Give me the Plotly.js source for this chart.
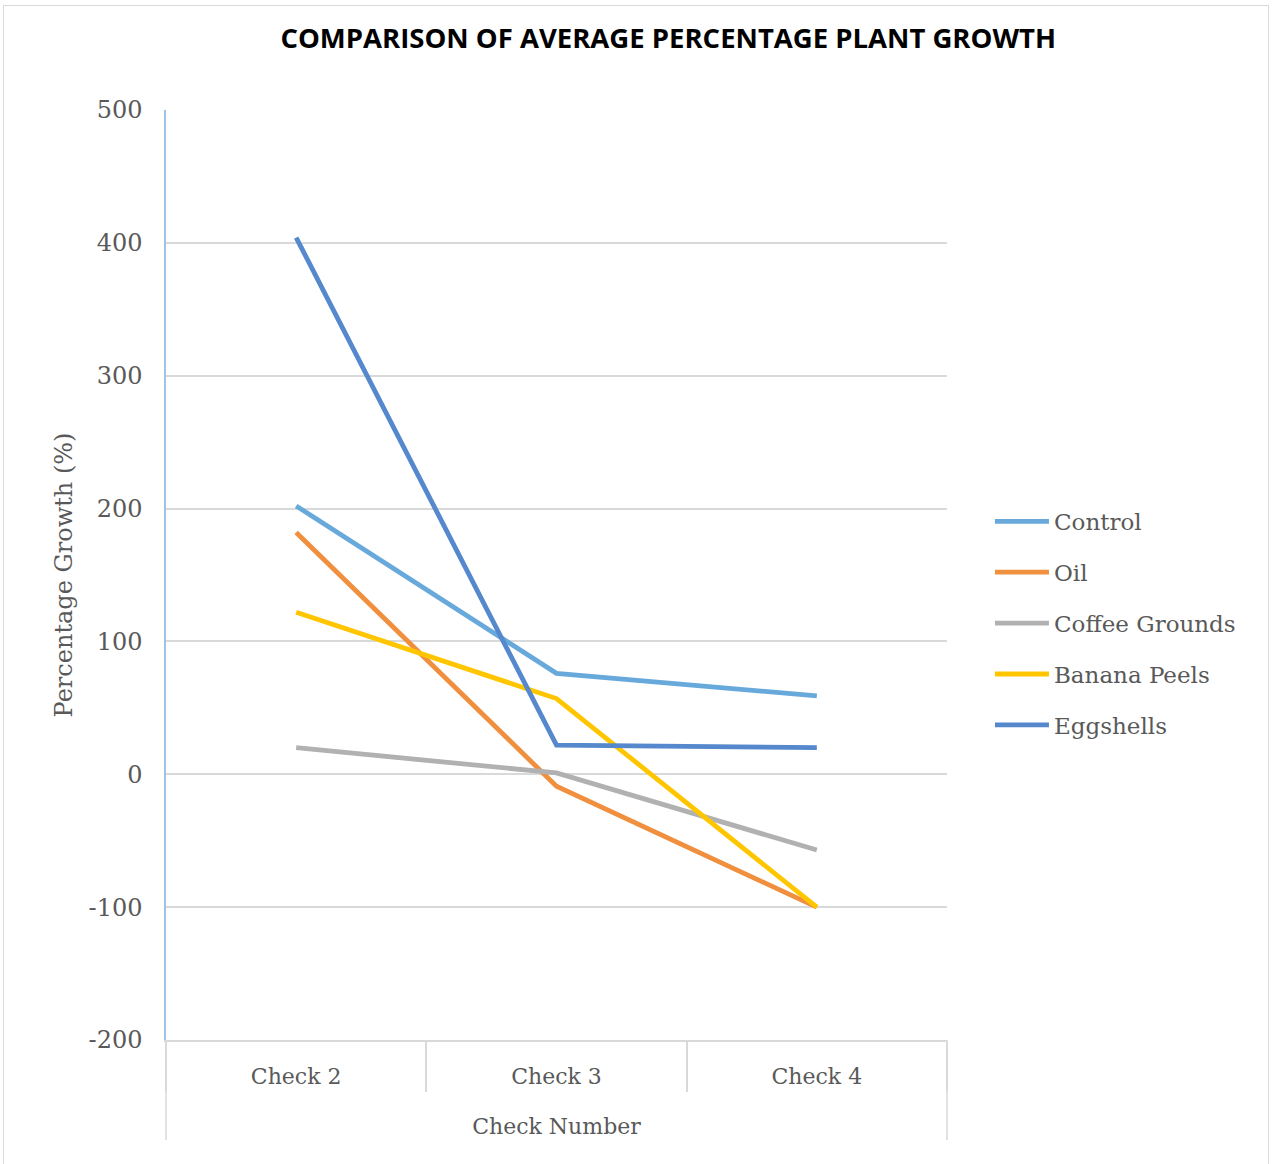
<!DOCTYPE html>
<html>
<head>
<meta charset="utf-8">
<script src="https://cdn.plot.ly/plotly-3.0.1.min.js"></script>
<style>
  html, body { margin: 0; padding: 0; background: #ffffff; }
  #wrap { position: relative; width: 1274px; height: 1164px; overflow: hidden; }
  #chart { position: absolute; left: 0; top: 0; width: 1274px; height: 1164px; }
  #frame { position: absolute; left: 3px; top: 5px; width: 1266px; height: 1170px;
           border: 1px solid #d9d9d9; pointer-events: none; box-sizing: border-box; }
</style>
</head>
<body>
<div id="wrap">
  <div id="chart"></div>
  <div id="frame"></div>
</div>
<script>
// Check points and average percentage growth for each treatment
const checks = ["Check 2", "Check 3", "Check 4"];
const control = [202, 76, 59];
const oil = [182, -9, -100];
const coffeeGrounds = [20, 1, -57];
const bananaPeels = [122, 57, -100];
const eggshells = [404, 22, 20];

// Y axis ticks, written with a plain hyphen for negatives
const yTickValues = [-200, -100, 0, 100, 200, 300, 400, 500];
const yTickLabels = ["-200", "-100", "0", "100", "200", "300", "400", "500"];

const seriesNames = ["Control", "Oil", "Coffee Grounds", "Banana Peels", "Eggshells"];
const seriesValues = [control, oil, coffeeGrounds, bananaPeels, eggshells];
const seriesColors = ["#68a9dc", "#f08f3e", "#b1b1b1", "#ffc600", "#5588cc"];

const serif = "DejaVu Serif, Georgia, serif";
const textGrey = "#595959";
const gridGrey = "#d9d9d9";

const traces = seriesNames.map((name, i) => ({
  type: "scatter",
  mode: "lines",
  name: name,
  x: checks,
  y: seriesValues[i],
  legendgroup: "g" + i,
  line: { color: seriesColors[i], width: 4.8 },
  hoverinfo: "x+y+name"
}));

const layout = {
  width: 1274,
  height: 1164,
  paper_bgcolor: "#ffffff",
  plot_bgcolor: "#ffffff",
  margin: { l: 166, r: 327, t: 110, b: 124 },
  showlegend: true,
  title: {
    text: "<b>COMPARISON OF AVERAGE PERCENTAGE PLANT GROWTH</b>",
    font: { family: "Open Sans, Arial, sans-serif", size: 27.5, color: "#000000" },
    x: 0.5245, xref: "container", xanchor: "center",
    y: 0.967, yref: "container", yanchor: "middle"
  },
  xaxis: {
    type: "category",
    range: [-0.5, 2.5],
    tickson: "boundaries",
    ticks: "outside",
    ticklen: 50,
    tickwidth: 1.5,
    tickcolor: gridGrey,
    ticklabelstandoff: 16,
    showline: true,
    linecolor: gridGrey,
    linewidth: 1.5,
    showgrid: false,
    tickfont: { family: serif, size: 22, color: textGrey },
    title: { text: "Check Number", font: { family: serif, size: 22, color: textGrey }, standoff: 30 },
    automargin: false,
    fixedrange: true
  },
  yaxis: {
    range: [-200, 500],
    tickmode: "array",
    tickvals: yTickValues,
    ticktext: yTickLabels,
    showgrid: true,
    gridcolor: gridGrey,
    gridwidth: 1.5,
    zeroline: false,
    showline: true,
    linecolor: "#9dc3e6",
    linewidth: 1.5,
    ticks: "outside",
    ticklen: 17,
    tickcolor: "rgba(0,0,0,0)",
    tickfont: { family: serif, size: 24, color: textGrey },
    title: { text: "Percentage Growth (%)", font: { family: serif, size: 24, color: textGrey }, standoff: 9 },
    automargin: false,
    fixedrange: true
  },
  legend: {
    x: 1.055, xanchor: "left",
    y: 0.448, yanchor: "middle",
    traceorder: "grouped",
    tracegroupgap: 18,
    font: { family: serif, size: 23, color: textGrey },
    bgcolor: "rgba(0,0,0,0)",
    itemwidth: 54
  },
  shapes: [
    { type: "line", xref: "paper", yref: "paper", x0: 0, x1: 0, y0: 0, y1: -0.1075,
      line: { color: gridGrey, width: 1.5 } },
    { type: "line", xref: "paper", yref: "paper", x0: 1, x1: 1, y0: 0, y1: -0.1075,
      line: { color: gridGrey, width: 1.5 } }
  ]
};

Plotly.newPlot("chart", traces, layout, { displayModeBar: false });
</script>
</body>
</html>
